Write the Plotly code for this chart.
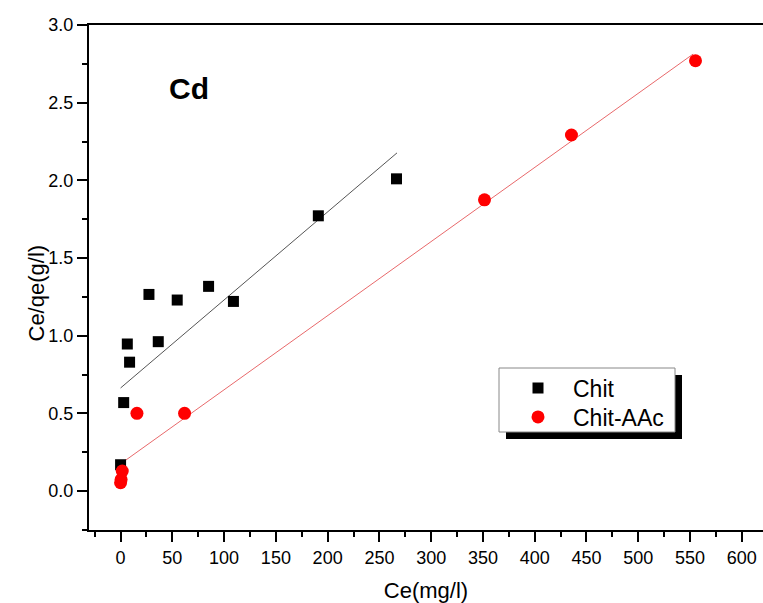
import plotly.graph_objects as go

# Data
chit_x = [0, 3, 6.5, 8.7, 27.4, 36.4, 54.7, 85, 109, 191, 266.5]
chit_y = [0.17, 0.57, 0.947, 0.83, 1.266, 0.962, 1.23, 1.318, 1.221, 1.772, 2.01]
aac_x = [0, 0.5, 1.6, 15.8, 61.8, 351.5, 435.5, 555.3]
aac_y = [0.054, 0.075, 0.129, 0.501, 0.501, 1.875, 2.292, 2.77]
chit_fit_x = [0, 267]
chit_fit_y = [0.664, 2.177]
aac_fit_x = [3, 553]
aac_fit_y = [0.19, 2.813]
x_ticks = [0, 50, 100, 150, 200, 250, 300, 350, 400, 450, 500, 550, 600]
y_ticks = [0.0, 0.5, 1.0, 1.5, 2.0, 2.5, 3.0]

W, H = 763, 603
ML, MR, MT, MB = 89, 0, 25, 73
PW, PH = W - ML - MR, H - MT - MB

def px(x):
    return (x - ML) / PW

def py(y):
    return 1 - (y - MT) / PH

FONT = "Liberation Sans, Arial, sans-serif"

fig = go.Figure()
fig.add_trace(go.Scatter(x=chit_fit_x, y=chit_fit_y, mode="lines",
                         line=dict(color="#555555", width=1), showlegend=False, hoverinfo="skip"))
fig.add_trace(go.Scatter(x=aac_fit_x, y=aac_fit_y, mode="lines",
                         line=dict(color="#e8696b", width=1), showlegend=False, hoverinfo="skip"))
fig.add_trace(go.Scatter(x=chit_x, y=chit_y, mode="markers", name="Chit", legend="legend",
                         marker=dict(symbol="square", size=11, color="black")))
fig.add_trace(go.Scatter(x=aac_x, y=aac_y, mode="markers", name="Chit-AAc", legend="legend2",
                         marker=dict(symbol="circle", size=13, color="#ff0000")))

leg_common = dict(xanchor="left", yanchor="middle", bgcolor="rgba(0,0,0,0)",
                  borderwidth=0, font=dict(size=23, family=FONT),
                  itemwidth=60, indentation=4)

fig.update_layout(
    width=W, height=H,
    margin=dict(l=ML, r=MR, t=MT, b=MB),
    paper_bgcolor="white", plot_bgcolor="white",
    font=dict(family=FONT, color="black"),
    showlegend=True,
    legend=dict(x=px(499), y=py(388), **leg_common),
    legend2=dict(x=px(499), y=py(417), **leg_common),
    shapes=[
        dict(type="rect", xref="paper", yref="paper",
             x0=px(506), x1=px(682), y0=py(439), y1=py(375),
             fillcolor="black", line=dict(width=0), layer="above"),
        dict(type="rect", xref="paper", yref="paper",
             x0=px(499), x1=px(675), y0=py(432), y1=py(368),
             fillcolor="white", line=dict(width=1, color="#888888"), layer="above"),
    ],
    annotations=[
        dict(text="<b>Cd</b>", x=65.7, y=2.59, xref="x", yref="y", showarrow=False,
             font=dict(size=30, family=FONT)),
        dict(text="Ce/qe(g/l)", x=px(21), y=py(293), xref="paper", yref="paper",
             textangle=-90, showarrow=False, font=dict(size=22, family=FONT)),
    ],
)
fig.update_xaxes(range=[-30.5, 620.5], tickvals=x_ticks, ticktext=[str(v) for v in x_ticks],
                 ticks="outside", ticklen=10, tickwidth=2, tickcolor="black",
                 minor=dict(dtick=25, tick0=0, ticks="outside", ticklen=5, tickwidth=2, tickcolor="black"),
                 showline=True, linewidth=2, linecolor="black", mirror=True,
                 showgrid=False, zeroline=False,
                 tickfont=dict(size=18, family=FONT),
                 title=dict(text="Ce(mg/l)", font=dict(size=22, family=FONT), standoff=18))
fig.update_yaxes(range=[-0.25, 3.0], tickvals=y_ticks, ticktext=["%.1f" % v for v in y_ticks],
                 ticks="outside", ticklen=10, tickwidth=2, tickcolor="black",
                 minor=dict(dtick=0.25, tick0=0, ticks="outside", ticklen=5, tickwidth=2, tickcolor="black"),
                 showline=True, linewidth=2, linecolor="black", mirror=False,
                 showgrid=False, zeroline=False,
                 tickfont=dict(size=18, family=FONT))

fig.write_html("out.html")
